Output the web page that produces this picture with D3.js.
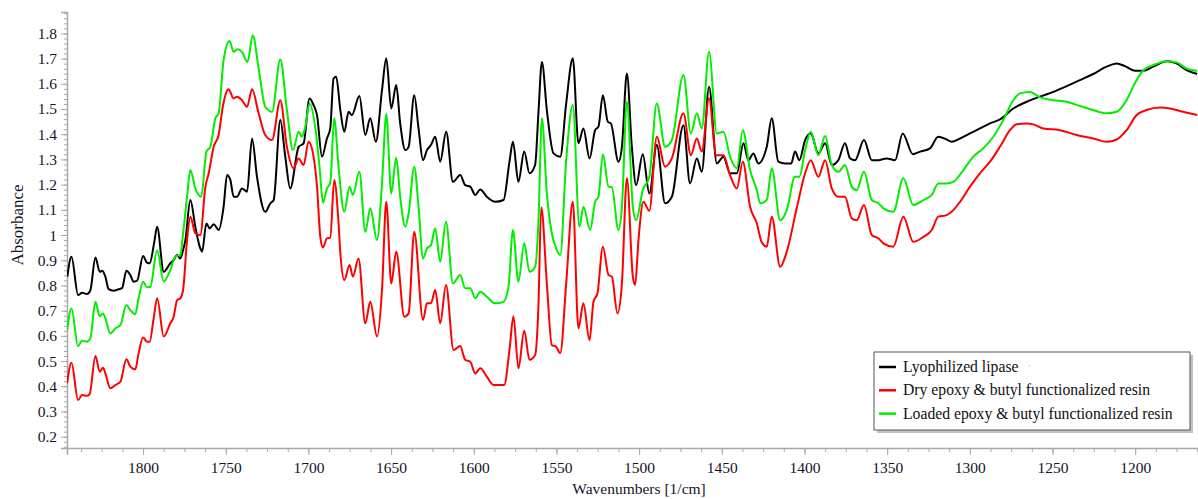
<!DOCTYPE html>
<html>
<head>
<meta charset="utf-8">
<script src="https://cdn.jsdelivr.net/npm/d3@7"></script>
<style>
  html, body { margin: 0; padding: 0; background: #fff; }
  svg { display: block; }
  svg text { font-family: "Liberation Serif", "Times New Roman", Times, serif; }
</style>
</head>
<body>
<div id="graphic"></div>
<script>
// series: [wavenumber (1/cm), absorbance]
const lipase = [[1845.8,0.835],[1843.3,0.914],[1839.3,0.762],[1836.9,0.771],[1833.9,0.766],[1831.9,0.78],[1828.8,0.911],[1826.2,0.854],[1824.8,0.858],[1822.8,0.835],[1820.8,0.785],[1817.8,0.779],[1814.8,0.785],[1812.7,0.789],[1810.1,0.858],[1807.7,0.841],[1805.7,0.815],[1803.6,0.819],[1800,0.917],[1797.6,0.89],[1796,0.888],[1793.2,0.973],[1791.5,1.033],[1787.5,0.854],[1783.5,0.888],[1781.5,0.901],[1779.4,0.921],[1777.5,0.907],[1775.8,0.94],[1774.4,0.98],[1771.4,1.139],[1768.4,1.033],[1765.4,0.947],[1764.3,0.934],[1761.7,1.046],[1759.7,1.026],[1757.3,1.043],[1754.3,1.02],[1751.3,1.112],[1749.2,1.238],[1747.2,1.218],[1745.2,1.152],[1743.2,1.152],[1740.2,1.185],[1737.1,1.172],[1734.1,1.383],[1731.1,1.231],[1726.1,1.092],[1723,1.126],[1721,1.139],[1717,1.456],[1714,1.311],[1711,1.185],[1705.9,1.35],[1702.9,1.364],[1699.3,1.542],[1696.9,1.516],[1694.8,1.476],[1691.8,1.311],[1688.8,1.383],[1686.8,1.423],[1684.8,1.621],[1683.2,1.628],[1680.7,1.496],[1678.3,1.41],[1675.7,1.489],[1673.7,1.476],[1669.2,1.552],[1665.6,1.397],[1662.6,1.463],[1659.2,1.37],[1655.5,1.575],[1652.9,1.701],[1649.9,1.502],[1646.9,1.595],[1644.5,1.443],[1641.4,1.337],[1639.4,1.35],[1636,1.555],[1633.4,1.423],[1630.7,1.297],[1628.3,1.337],[1625.9,1.357],[1623.3,1.39],[1620.3,1.291],[1616.7,1.41],[1612.6,1.211],[1608.2,1.238],[1605.2,1.198],[1602.1,1.192],[1599.1,1.159],[1596.1,1.181],[1592.1,1.152],[1587,1.132],[1582,1.139],[1578.4,1.291],[1576.3,1.37],[1573,1.211],[1569.5,1.331],[1566.3,1.245],[1562.9,1.278],[1560.9,1.483],[1558.8,1.687],[1555.8,1.496],[1551.8,1.324],[1547.7,1.311],[1544.1,1.522],[1540.1,1.701],[1536.7,1.364],[1533.7,1.423],[1530,1.304],[1526.6,1.416],[1524.6,1.43],[1521.9,1.555],[1518.9,1.449],[1517.1,1.443],[1512.5,1.291],[1510.4,1.35],[1507.4,1.641],[1504.4,1.35],[1501.8,1.198],[1497.8,1.321],[1493.8,1.165],[1489.3,1.357],[1484.3,1.126],[1480.2,1.152],[1473.2,1.436],[1469.2,1.205],[1465.1,1.304],[1462.1,1.251],[1457.7,1.588],[1453,1.284],[1449,1.311],[1445,1.245],[1440.9,1.245],[1436.9,1.364],[1433.9,1.297],[1430.9,1.324],[1427.9,1.284],[1422.8,1.35],[1419.8,1.463],[1415.8,1.291],[1411.7,1.284],[1408,1.284],[1405.7,1.331],[1403.1,1.297],[1399.6,1.377],[1396.2,1.403],[1391.6,1.324],[1387.5,1.364],[1383.5,1.278],[1379.5,1.297],[1375.5,1.364],[1372.4,1.304],[1369.4,1.297],[1364,1.377],[1359.3,1.297],[1355.3,1.297],[1350.3,1.304],[1345.2,1.297],[1340.6,1.403],[1334.5,1.321],[1330.1,1.331],[1324.1,1.344],[1319.1,1.39],[1314,1.379],[1311,1.37],[1305.9,1.383],[1299.9,1.403],[1293.9,1.423],[1287.8,1.443],[1281.8,1.459],[1273.7,1.502],[1265.6,1.529],[1257.6,1.549],[1249.5,1.568],[1241.4,1.591],[1233.4,1.615],[1225.4,1.639],[1217.3,1.668],[1211.2,1.681],[1206.2,1.67],[1200.2,1.652],[1195.1,1.652],[1189.1,1.668],[1181,1.69],[1175,1.681],[1168.9,1.654],[1162.5,1.639]];

const dryResin = [[1845.9,0.412],[1843.3,0.493],[1839.3,0.345],[1836.9,0.365],[1833.9,0.362],[1832.3,0.369],[1828.8,0.52],[1826.2,0.458],[1824.2,0.473],[1822.8,0.451],[1819.8,0.392],[1816.7,0.405],[1813.7,0.418],[1810.1,0.507],[1807.7,0.478],[1804.7,0.467],[1802.7,0.531],[1800,0.593],[1797.6,0.577],[1796,0.577],[1793.6,0.669],[1791.5,0.749],[1787.5,0.597],[1783.5,0.65],[1781.5,0.676],[1779.4,0.742],[1777.5,0.749],[1775.8,0.782],[1773.4,0.98],[1771.4,1.073],[1768.4,1.007],[1765.4,1.0],[1762.3,1.192],[1760.3,1.245],[1757.3,1.35],[1754.3,1.397],[1751.6,1.516],[1748.3,1.578],[1745.2,1.542],[1743.2,1.549],[1740.2,1.535],[1737.1,1.509],[1734.1,1.578],[1730.1,1.483],[1726.1,1.397],[1722,1.377],[1717,1.535],[1713,1.35],[1709,1.265],[1705.9,1.304],[1702.9,1.278],[1699.9,1.37],[1696.9,1.311],[1694.8,1.192],[1692.8,0.993],[1691.2,0.951],[1688.8,0.987],[1686.8,0.99],[1684.4,1.218],[1681.8,1.05],[1680.7,0.93],[1678.3,0.821],[1675.1,0.881],[1673.1,0.835],[1669.7,0.907],[1665.6,0.65],[1662.6,0.735],[1658.5,0.597],[1655.5,0.782],[1652.9,1.132],[1649.9,0.808],[1646.9,0.934],[1642,0.676],[1639.4,0.689],[1636,1.013],[1630.7,0.663],[1628.3,0.729],[1625.9,0.729],[1623.3,0.782],[1620.3,0.65],[1616.8,0.802],[1612.2,0.544],[1608.2,0.56],[1605.2,0.505],[1602.1,0.497],[1599.1,0.451],[1596.1,0.471],[1592.1,0.438],[1588.1,0.405],[1581.6,0.405],[1578.4,0.544],[1576,0.678],[1573,0.471],[1569.5,0.62],[1566.3,0.505],[1562.9,0.524],[1560.9,0.716],[1559.2,1.11],[1555.8,0.808],[1552.8,0.564],[1550.2,0.557],[1547.7,0.531],[1544.1,0.808],[1540.1,1.132],[1536.7,0.63],[1533.7,0.729],[1530,0.583],[1527.6,0.735],[1525.2,0.769],[1521.9,0.954],[1518.5,0.841],[1516.5,0.835],[1513.1,0.689],[1510.4,0.808],[1507.4,1.225],[1503.8,0.835],[1502.4,0.802],[1500.4,0.98],[1497.4,1.132],[1493.8,1.096],[1489.3,1.39],[1484.3,1.271],[1480.2,1.304],[1473.2,1.483],[1468.7,1.317],[1465.1,1.383],[1462.1,1.331],[1457.7,1.542],[1453.4,1.317],[1449,1.317],[1445,1.238],[1440.9,1.185],[1437.3,1.291],[1432.9,1.112],[1428.8,1.046],[1425.8,0.97],[1422.8,0.954],[1419.8,1.073],[1414.7,0.874],[1410.7,0.934],[1404.7,1.106],[1399.6,1.245],[1396.2,1.297],[1391.6,1.231],[1387.5,1.297],[1383.5,1.185],[1379.5,1.152],[1375.5,1.152],[1371.4,1.066],[1368.4,1.059],[1364,1.119],[1359.3,1.0],[1355.3,0.987],[1352.3,0.967],[1346.3,0.954],[1340.2,1.073],[1334.2,0.973],[1328.1,0.993],[1323,1.02],[1319.1,1.073],[1314,1.079],[1310,1.099],[1305.9,1.132],[1299.9,1.192],[1293.9,1.245],[1287.8,1.291],[1281.8,1.35],[1275.7,1.416],[1271.7,1.44],[1265.6,1.443],[1261.6,1.439],[1255.6,1.423],[1245.5,1.416],[1235.4,1.397],[1225.4,1.383],[1217.3,1.37],[1211.2,1.379],[1205.2,1.416],[1199.1,1.476],[1193.1,1.496],[1185,1.506],[1179,1.502],[1173,1.492],[1162.5,1.476]];

const loadedResin = [[1845.9,0.623],[1843.3,0.709],[1839.3,0.559],[1836.9,0.581],[1833.9,0.577],[1831.9,0.59],[1828.8,0.735],[1826.2,0.678],[1824.2,0.689],[1822.8,0.669],[1819.8,0.61],[1816.7,0.63],[1813.7,0.643],[1810.1,0.722],[1807.7,0.702],[1804.7,0.686],[1802.7,0.749],[1800,0.815],[1797.6,0.793],[1795.6,0.795],[1791.5,0.94],[1787.5,0.815],[1783.5,0.861],[1780.5,0.914],[1777.5,0.921],[1775.8,1.007],[1773.4,1.152],[1771.4,1.258],[1768.4,1.185],[1764.8,1.152],[1761.7,1.331],[1759.3,1.35],[1756.3,1.463],[1754.3,1.483],[1751.3,1.694],[1747.7,1.77],[1745.2,1.727],[1742.8,1.737],[1740.2,1.727],[1736.8,1.687],[1733.7,1.793],[1730.1,1.661],[1726.1,1.509],[1722,1.489],[1717,1.697],[1713,1.496],[1709.3,1.337],[1705.9,1.41],[1703.9,1.39],[1701.9,1.43],[1699.3,1.522],[1695.8,1.423],[1693.2,1.265],[1691.2,1.128],[1688.8,1.185],[1686.8,1.207],[1684.4,1.463],[1681.8,1.271],[1678.3,1.092],[1675.1,1.192],[1673.1,1.159],[1669.2,1.251],[1665.6,1.013],[1662.6,1.106],[1658.5,0.98],[1655.5,1.205],[1652.9,1.48],[1649.9,1.165],[1646.9,1.308],[1644.5,1.152],[1641.4,1.033],[1639.4,1.086],[1636,1.271],[1633.4,1.112],[1630.7,0.907],[1628.3,0.947],[1625.9,0.96],[1623.3,1.026],[1620.3,0.894],[1616.8,1.053],[1612.6,0.808],[1608.2,0.841],[1605.2,0.789],[1602.1,0.789],[1599.1,0.749],[1596.1,0.775],[1592.1,0.755],[1587,0.729],[1582,0.735],[1579,0.795],[1576.3,1.02],[1573,0.815],[1569.5,0.967],[1566.3,0.854],[1562.9,0.874],[1560.9,1.05],[1558.8,1.463],[1555.8,1.165],[1552.8,1.007],[1550.2,0.947],[1547.7,0.921],[1544.1,1.297],[1540.1,1.516],[1536.1,1.033],[1533.7,1.112],[1529.6,1.02],[1526.6,1.132],[1524.6,1.152],[1521.9,1.321],[1518.5,1.192],[1516.5,1.19],[1512.5,1.02],[1510.4,1.112],[1507.4,1.529],[1503.8,1.112],[1501.8,1.059],[1497.8,1.178],[1493.8,1.231],[1489.3,1.522],[1484.3,1.35],[1480.2,1.377],[1473.2,1.635],[1468.7,1.403],[1465.1,1.483],[1462.1,1.423],[1457.7,1.727],[1453,1.403],[1449,1.41],[1445,1.311],[1440.9,1.265],[1437.3,1.416],[1432.9,1.258],[1428.8,1.178],[1426.8,1.126],[1422.8,1.139],[1419.8,1.265],[1414.7,1.059],[1410.7,1.099],[1405.7,1.231],[1403.1,1.231],[1399.6,1.337],[1396.2,1.41],[1391.6,1.317],[1387.5,1.393],[1383.5,1.278],[1379.5,1.251],[1375.5,1.278],[1371.4,1.192],[1368.4,1.178],[1364,1.251],[1359.3,1.139],[1355.3,1.126],[1352.3,1.106],[1346.3,1.092],[1340.2,1.225],[1334.2,1.119],[1328.1,1.139],[1323,1.159],[1319.1,1.205],[1314,1.205],[1310,1.211],[1303.9,1.258],[1297.9,1.311],[1291.9,1.344],[1285.8,1.39],[1279.8,1.456],[1273.7,1.535],[1269.7,1.562],[1263.6,1.568],[1257.6,1.546],[1249.5,1.535],[1241.4,1.529],[1233.4,1.512],[1225.4,1.496],[1217.3,1.483],[1211.2,1.489],[1205.2,1.535],[1200.2,1.602],[1195.1,1.654],[1189.1,1.674],[1181,1.69],[1175,1.685],[1168.9,1.661],[1162.5,1.652]];

const seriesNames = ["Lyophilized lipase", "Dry epoxy & butyl functionalized resin", "Loaded epoxy & butyl functionalized resin"];
const seriesColors = ["#000000", "#ff0000", "#00ee00"];
const xLabels = [1800, 1750, 1700, 1650, 1600, 1550, 1500, 1450, 1400, 1350, 1300, 1250, 1200];
const yLabels = [0.2, 0.3, 0.4, 0.5, 0.6, 0.7, 0.8, 0.9, 1, 1.1, 1.2, 1.3, 1.4, 1.5, 1.6, 1.7, 1.8];

const width = 1198, height = 499;
const margin = {top: 12, right: 0, bottom: 51, left: 67};
const serif = "'Liberation Serif', 'Times New Roman', Times, serif";

const x = d3.scaleLinear().domain([1846, 1162]).range([margin.left, width - margin.right]);
const y = d3.scaleLinear().domain([0.155, 1.885]).range([height - margin.bottom, margin.top]);

const svg = d3.select("#graphic").append("svg")
    .attr("width", width)
    .attr("height", height)
    .attr("font-family", serif);

svg.append("defs").append("clipPath").attr("id", "plot")
    .append("rect")
    .attr("x", margin.left).attr("y", margin.top)
    .attr("width", width - margin.left - margin.right)
    .attr("height", height - margin.top - margin.bottom);

// AXES
const axisColor = "#a8a8a8";
const labelColor = "#14142a";

// y minor ticks
svg.append("g")
    .attr("transform", `translate(${margin.left},0)`)
    .call(d3.axisLeft(y).tickValues(d3.range(8, 95).map(i => i * 0.02)).tickSize(3).tickFormat(""))
    .call(g => g.select(".domain").remove())
    .call(g => g.selectAll("line").attr("stroke", axisColor));

const yAxis = svg.append("g")
    .attr("transform", `translate(${margin.left},0)`)
    .call(d3.axisLeft(y).tickValues(yLabels).tickSize(6).tickPadding(4)
        .tickFormat(d => d3.format(".1f")(d).replace(/\.0$/, "")))
    .attr("font-family", serif)
    .attr("font-size", 15.5)
    .call(g => g.select(".domain").attr("stroke", axisColor).attr("stroke-width", 1.5))
    .call(g => g.selectAll("line").attr("stroke", axisColor));
yAxis.selectAll("text").attr("fill", labelColor);

// x minor ticks
svg.append("g")
    .attr("transform", `translate(0,${height - margin.bottom})`)
    .call(d3.axisBottom(x).tickValues(d3.range(1162.5, 1846, 12.5)).tickSize(4).tickFormat(""))
    .call(g => g.select(".domain").remove())
    .call(g => g.selectAll("line").attr("stroke", axisColor));

const xAxis = svg.append("g")
    .attr("transform", `translate(0,${height - margin.bottom})`)
    .call(d3.axisBottom(x).tickValues(xLabels).tickSize(7).tickPadding(7).tickFormat(d3.format("d")))
    .attr("font-family", serif)
    .attr("font-size", 15.5)
    .call(g => g.select(".domain").attr("stroke", axisColor).attr("stroke-width", 1.5))
    .call(g => g.selectAll("line").attr("stroke", axisColor));
xAxis.selectAll("text").attr("fill", labelColor);

svg.append("text")
    .attr("x", 639)
    .attr("y", 494)
    .attr("text-anchor", "middle")
    .attr("fill", labelColor)
    .attr("font-family", serif)
    .attr("font-size", 15.5)
    .text("Wavenumbers [1/cm]");

svg.append("text")
    .attr("transform", "translate(23,225) rotate(-90)")
    .attr("text-anchor", "middle")
    .attr("fill", labelColor)
    .attr("font-family", serif)
    .attr("font-size", 17)
    .text("Absorbance");

// LINES
const line = d3.line()
    .x(d => x(d[0]))
    .y(d => y(d[1]))
    .curve(d3.curveMonotoneX);

const series = [lipase, dryResin, loadedResin];

svg.append("g")
    .attr("clip-path", "url(#plot)")
    .selectAll("path")
    .data(series)
    .join("path")
    .attr("fill", "none")
    .attr("stroke", (d, i) => seriesColors[i])
    .attr("stroke-width", 2)
    .attr("stroke-linejoin", "round")
    .attr("d", line);

// LEGEND
const legend = svg.append("g").attr("transform", "translate(874,352)");
legend.append("rect")
    .attr("x", 3).attr("y", 3)
    .attr("width", 316).attr("height", 78)
    .attr("fill", "#9a9a9a")
    .attr("opacity", 0.6);
legend.append("rect")
    .attr("width", 316).attr("height", 78)
    .attr("fill", "#fff")
    .attr("stroke", "#555")
    .attr("stroke-width", 1);

const item = legend.selectAll("g.item")
    .data(seriesNames)
    .join("g")
    .attr("class", "item")
    .attr("transform", (d, i) => `translate(0,${15 + i * 23.3})`);
item.append("line")
    .attr("x1", 5).attr("x2", 22)
    .attr("stroke", (d, i) => seriesColors[i])
    .attr("stroke-width", 2.5);
item.append("text")
    .attr("x", 29)
    .attr("dy", "0.33em")
    .attr("fill", "#111")
    .attr("font-family", serif)
    .attr("font-size", 15.7)
    .text(d => d);
item.filter((d, i) => i === 0).append("text")
    .attr("x", 154)
    .attr("dy", "0.1em")
    .attr("fill", "#888")
    .attr("font-size", 9)
    .text("·");
</script>
</body>
</html>
